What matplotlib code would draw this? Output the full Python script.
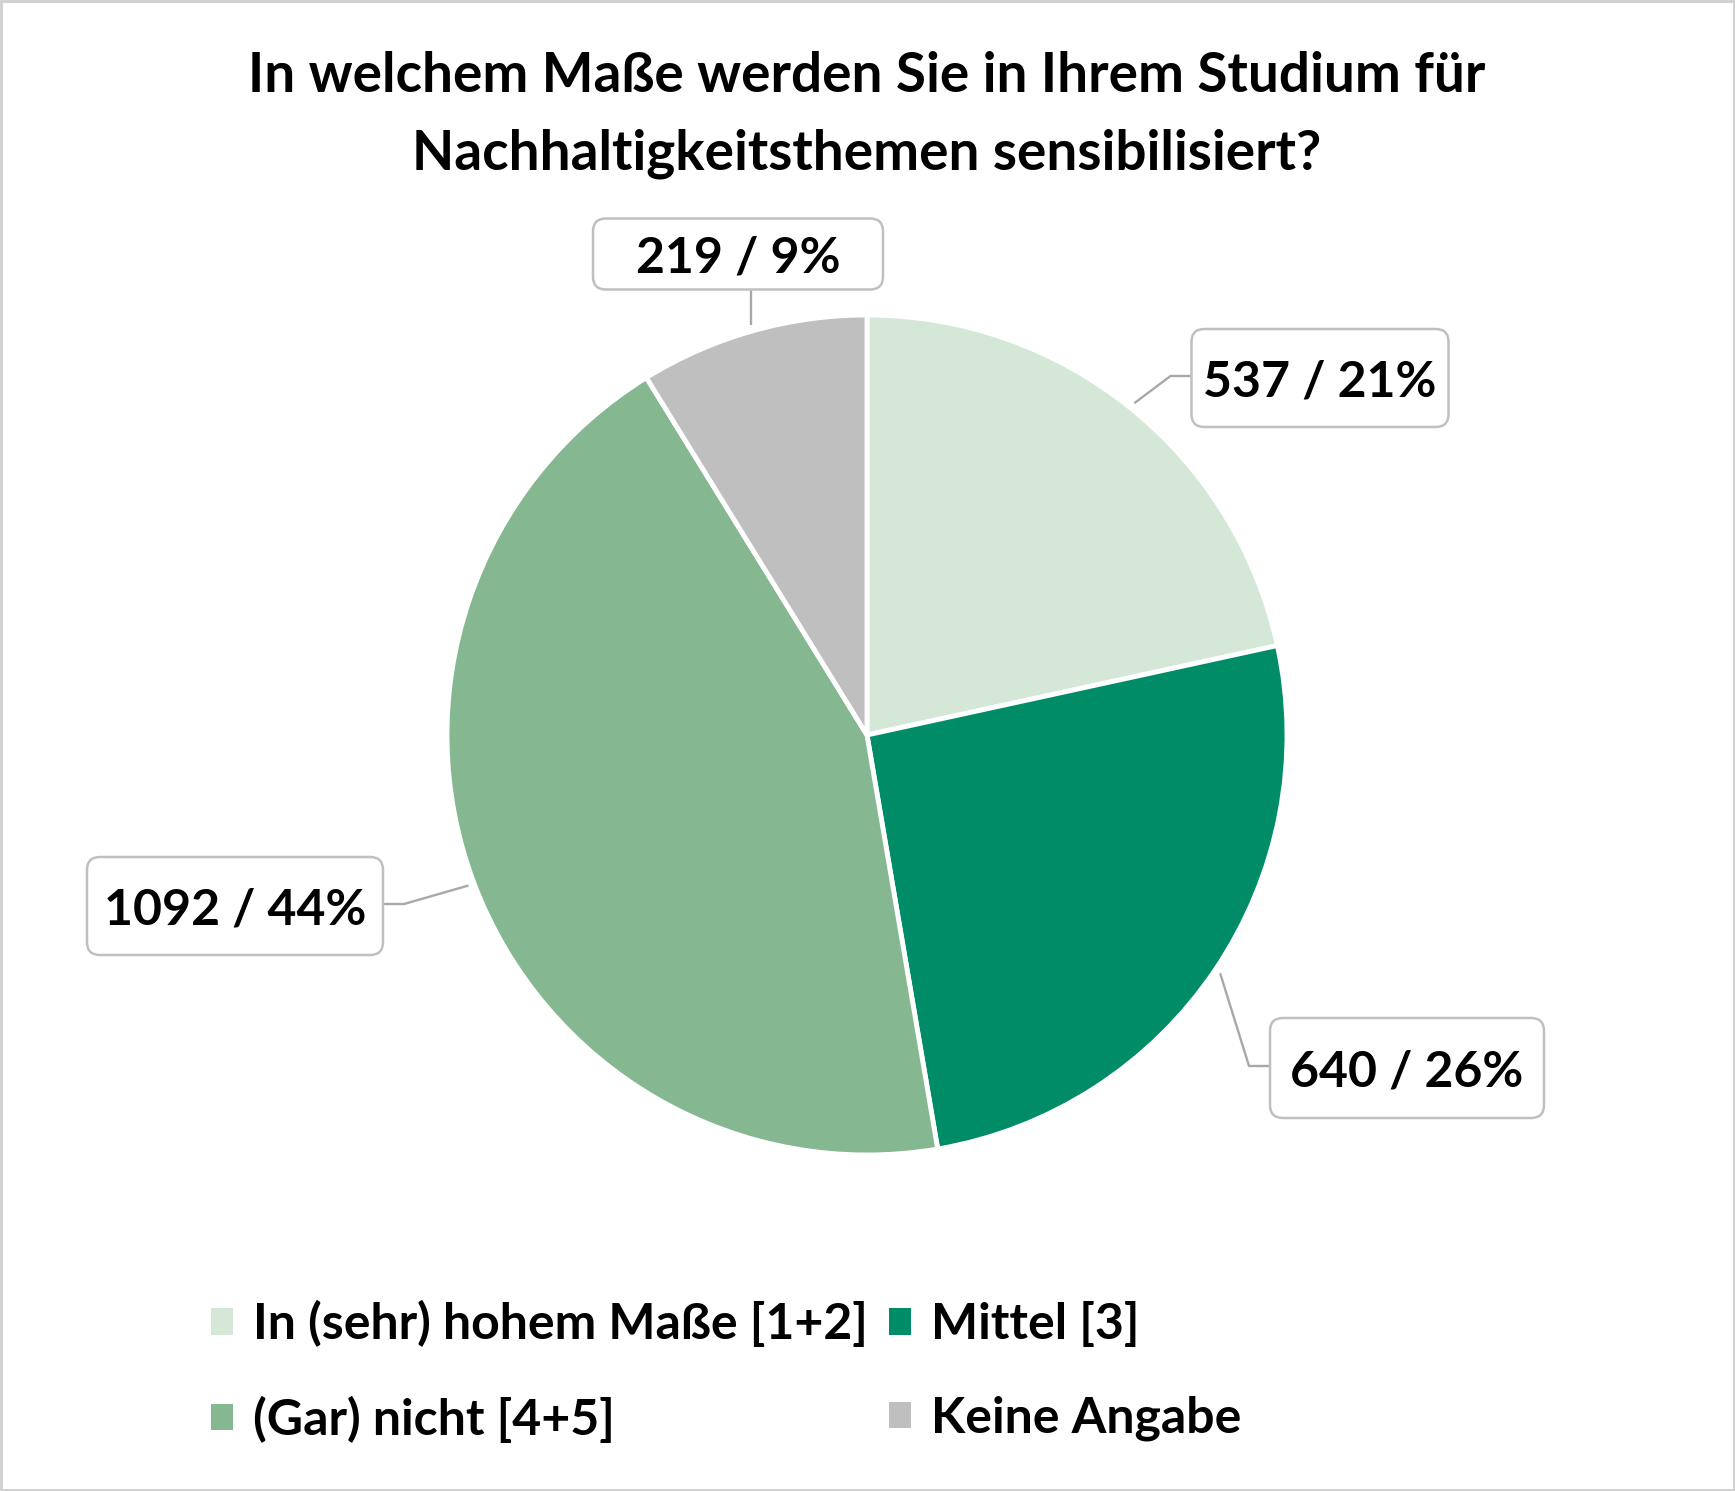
import numpy as np
import matplotlib
matplotlib.use("Agg")
import matplotlib.pyplot as plt
from matplotlib.patches import FancyBboxPatch, Rectangle

# ============================================================
# DATA
# ============================================================
title = "In welchem Maße werden Sie in Ihrem Studium für\nNachhaltigkeitsthemen sensibilisiert?"
categories = ["In (sehr) hohem Maße [1+2]", "Mittel [3]", "(Gar) nicht [4+5]", "Keine Angabe"]
counts = [537, 640, 1092, 219]
percents = [21, 26, 44, 9]
colors = ["#d5e8d8", "#008c67", "#85b791", "#bfbfbf"]

# ============================================================
# LAYOUT (pixel units, y measured from top)
# ============================================================
W, H = 1735, 1491
pie_center = (867, 735)
pie_radius = 420
# label box: centre x, centre y, width, height, side the leader enters from
label_boxes = [
    (1320, 378, 257, 98, "left"),
    (1407, 1068, 274, 100, "left"),
    (235, 906, 296, 98, "right"),
    (738, 254, 290, 71, "bottom"),
]
WEIGHT = "bold"

plt.rcParams["font.family"] = ["Lato", "DejaVu Sans"]

fig = plt.figure(figsize=(W / 100, H / 100), dpi=100)
ax = fig.add_axes([0, 0, 1, 1])


def py(y):
    return H - y


wedges, _ = ax.pie(
    counts,
    colors=colors,
    startangle=90,
    counterclock=False,
    center=(pie_center[0], py(pie_center[1])),
    radius=pie_radius,
    wedgeprops=dict(edgecolor="white", linewidth=3.5),
    frame=True,
)
ax.set_xlim(0, W)
ax.set_ylim(0, H)
ax.set_aspect("equal")
ax.axis("off")

# ---- labels with leader lines ----
for w, n, p, (bx, by, bw, bh, side) in zip(wedges, counts, percents, label_boxes):
    ang = np.deg2rad((w.theta1 + w.theta2) / 2)
    sx = w.center[0] + (w.r + 6) * np.cos(ang)
    sy = w.center[1] + (w.r + 6) * np.sin(ang)
    if side == "bottom":
        xs = [sx, sx]
        ys = [sy, py(by + bh / 2)]
    else:
        ax_x = bx - bw / 2 if side == "left" else bx + bw / 2
        ex = ax_x - 21 if side == "left" else ax_x + 21
        ys_att = py(by - 2)
        xs = [sx, ex, ax_x]
        ys = [sy, ys_att, ys_att]
    ax.plot(xs, ys, color="#a8a8a8", lw=1.7, solid_capstyle="butt", zorder=3)

    box = FancyBboxPatch(
        (bx - bw / 2, py(by) - bh / 2), bw, bh,
        boxstyle="round,pad=0,rounding_size=13",
        facecolor="white", edgecolor="#c0c0c0", lw=1.8, zorder=4,
    )
    ax.add_patch(box)
    ax.text(bx, py(by), f"{n} / {p}%", ha="center", va="center_baseline",
            fontsize=36, fontweight=WEIGHT, color="black", zorder=5)

# ---- title ----
ax.text(867, py(115), title, ha="center", va="center", fontsize=39.5,
        fontweight=WEIGHT, color="black", linespacing=1.65)

# ---- legend (row-wise order for two columns) ----
order = [0, 2, 1, 3]
leg = ax.legend(
    [wedges[i] for i in order],
    [categories[i] for i in order],
    ncol=2,
    loc="upper left",
    bbox_to_anchor=(211 / W, 1 - 1300 / H),
    frameon=False,
    prop=dict(size=36, weight=WEIGHT),
    handlelength=0.44,
    handleheight=0.44,
    handletextpad=0.4,
    columnspacing=0.42,
    labelspacing=0.97,
    borderpad=0,
    borderaxespad=0,
)
for h in leg.legend_handles:
    h.set_edgecolor("none")

# ---- outer frame ----
fig.patches.append(Rectangle((0.0008, 0.001), 0.9984, 0.998, transform=fig.transFigure,
                             fill=False, edgecolor="#cfcfcf", lw=2))

fig.savefig("out.png", dpi=100, facecolor="white")
